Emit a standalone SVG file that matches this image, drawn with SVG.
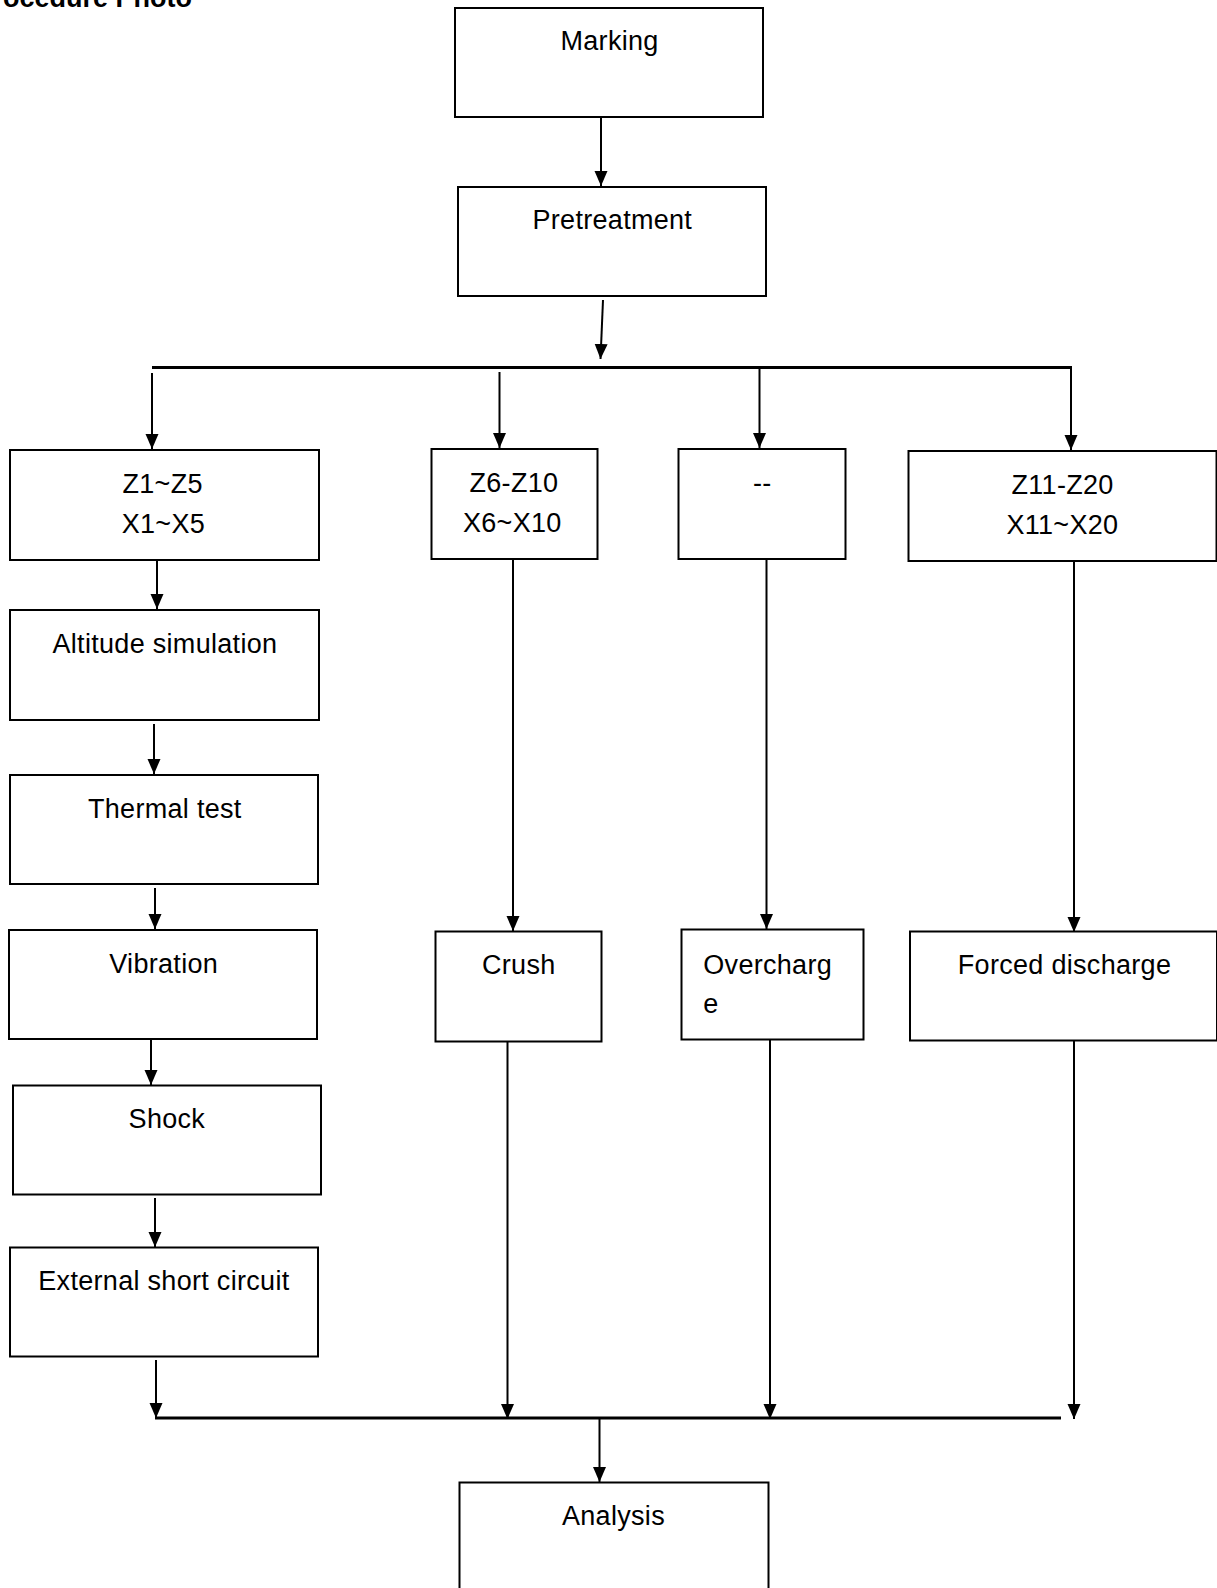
<svg xmlns="http://www.w3.org/2000/svg" width="1217" height="1588" viewBox="0 0 1217 1588">
<style>
.box{fill:#fff;stroke:#000;stroke-width:2}
.t{font-family:"Liberation Sans",Arial,sans-serif;font-size:27px;fill:#000;letter-spacing:0.3px}
.title{font-family:"Liberation Sans",Arial,sans-serif;font-size:27px;font-weight:bold;fill:#000}
.c{stroke:#000;stroke-width:2;fill:none}
.bus{stroke:#000;stroke-width:3;fill:none}
</style>
<defs>
<marker id="ah" markerUnits="userSpaceOnUse" markerWidth="16" markerHeight="14" refX="15" refY="6.5" orient="auto">
<path d="M0,0 L15,6.5 L0,13 z" fill="#000"/>
</marker>
</defs>
<rect width="1217" height="1588" fill="#fff"/>
<text class="title" x="192" y="7" text-anchor="end">Procedure Photo</text>

<g id="connectors">
<line class="c" x1="601" y1="117" x2="601" y2="186" marker-end="url(#ah)"/>
<line class="c" x1="603" y1="300" x2="600.5" y2="359" marker-end="url(#ah)"/>
<line class="bus" x1="152" y1="367.5" x2="1072" y2="367.5"/>
<line class="c" x1="152" y1="373" x2="152" y2="449" marker-end="url(#ah)"/>
<line class="c" x1="499.5" y1="372" x2="499.5" y2="448" marker-end="url(#ah)"/>
<line class="c" x1="759.5" y1="369" x2="759.5" y2="448" marker-end="url(#ah)"/>
<line class="c" x1="1071" y1="369" x2="1071" y2="450" marker-end="url(#ah)"/>
<line class="c" x1="157" y1="560" x2="157" y2="609" marker-end="url(#ah)"/>
<line class="c" x1="154" y1="724" x2="154" y2="774" marker-end="url(#ah)"/>
<line class="c" x1="155" y1="888" x2="155" y2="929" marker-end="url(#ah)"/>
<line class="c" x1="151" y1="1040" x2="151" y2="1085" marker-end="url(#ah)"/>
<line class="c" x1="155" y1="1198" x2="155" y2="1247" marker-end="url(#ah)"/>
<line class="c" x1="156" y1="1360" x2="156" y2="1418" marker-end="url(#ah)"/>
<line class="c" x1="513" y1="559" x2="513" y2="931" marker-end="url(#ah)"/>
<line class="c" x1="766.5" y1="559" x2="766.5" y2="929" marker-end="url(#ah)"/>
<line class="c" x1="1074" y1="561" x2="1074" y2="932" marker-end="url(#ah)"/>
<line class="c" x1="507.5" y1="1042" x2="507.5" y2="1419" marker-end="url(#ah)"/>
<line class="c" x1="770" y1="1040" x2="770" y2="1419" marker-end="url(#ah)"/>
<line class="c" x1="1074" y1="1041" x2="1074" y2="1419" marker-end="url(#ah)"/>
<line class="bus" x1="155" y1="1418" x2="1061" y2="1418"/>
<line class="c" x1="599.5" y1="1419" x2="599.5" y2="1482" marker-end="url(#ah)"/>
</g>

<g id="marking"><rect class="box" x="455" y="8" width="308" height="109"/><text class="t" x="560.5" y="49.5">Marking</text></g>
<g id="pretreatment"><rect class="box" x="458" y="187" width="308" height="109"/><text class="t" x="532.5" y="228.5">Pretreatment</text></g>

<g id="z1-z5"><rect class="box" x="10" y="450" width="309" height="110"/><text class="t" x="122.5" y="492.5">Z1~Z5</text><text class="t" x="121.7" y="533.3">X1~X5</text></g>
<g id="z6-z10"><rect class="box" x="431.5" y="449" width="166" height="110"/><text class="t" x="469.5" y="491.5">Z6-Z10</text><text class="t" x="463" y="532">X6~X10</text></g>
<g id="dash"><rect class="box" x="678.5" y="449" width="167" height="110"/><text class="t" x="753" y="491.5">--</text></g>
<g id="z11-z20"><rect class="box" x="908.5" y="451" width="308" height="110"/><text class="t" x="1011.5" y="493.5">Z11-Z20</text><text class="t" x="1006.4" y="534">X11~X20</text></g>

<g id="altitude"><rect class="box" x="10" y="610" width="309" height="110"/><text class="t" x="52.5" y="652.5">Altitude simulation</text></g>
<g id="thermal"><rect class="box" x="10" y="775" width="308" height="109"/><text class="t" x="88" y="817.5">Thermal test</text></g>
<g id="vibration"><rect class="box" x="9" y="930" width="308" height="109"/><text class="t" x="109.3" y="972.5">Vibration</text></g>
<g id="shock"><rect class="box" x="13" y="1085.5" width="308" height="109"/><text class="t" x="128.6" y="1128.4">Shock</text></g>
<g id="external-short"><rect class="box" x="10" y="1247.5" width="308" height="109"/><text class="t" x="38.3" y="1289.5">External short circuit</text></g>

<g id="crush"><rect class="box" x="435.5" y="931.5" width="166" height="110"/><text class="t" x="482" y="974">Crush</text></g>
<g id="overcharge"><rect class="box" x="681.5" y="929.5" width="182" height="110"/><text class="t" x="703.3" y="974">Overcharg</text><text class="t" x="703.3" y="1013">e</text></g>
<g id="forced-discharge"><rect class="box" x="910" y="931.5" width="307" height="109"/><text class="t" x="957.8" y="974">Forced discharge</text></g>

<g id="analysis"><rect class="box" x="459.5" y="1482.5" width="309" height="115"/><text class="t" x="562" y="1525">Analysis</text></g>
</svg>
